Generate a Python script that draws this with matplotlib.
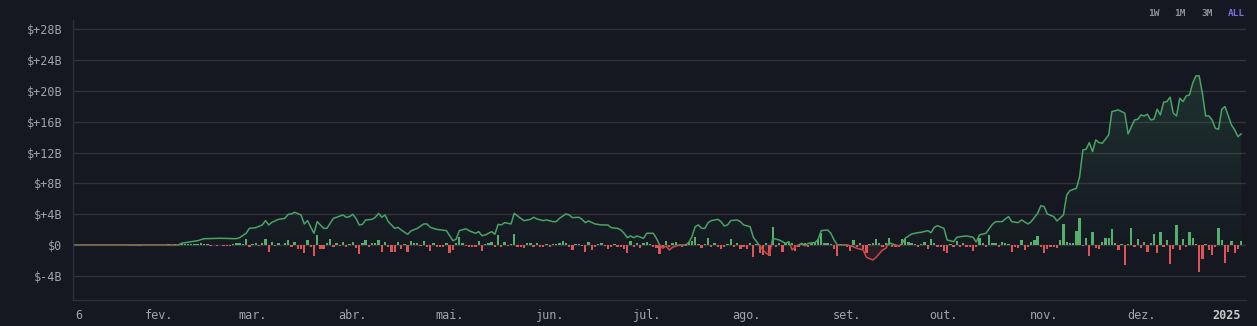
import numpy as np
import pandas as pd
import matplotlib
matplotlib.use("Agg")
import matplotlib.pyplot as plt
import matplotlib.dates as mdates
from matplotlib.patches import Rectangle

# ---------------- data ----------------
# daily net flow bars (billions USD), one list per month
bars_jan = [0.03, 0.02, 0.03, 0.02, 0.03, 0.02, 0.03, 0.02, 0.03, 0.02, 0.03, 0.02, 0.01, -0.02, 0.01,
            -0.02, -0.05, -0.12, -0.1, -0.1, -0.08, 0.05, 0.05, 0.06, 0.05, 0.06]
bars_feb = [0.05, 0.06, 0.05, 0.08, 0.06, 0.08, 0.05, 0.1, 0.08, 0.1, 0.12, 0.1, 0.12, 0.3, 0.1, 0.08,
            -0.17, 0.05, -0.1, -0.05, -0.12, -0.15, -0.15, 0.1, 0.25, 0.3, 0.1, 0.78, -0.2]
bars_mar = [0.1, 0.2, -0.15, 0.2, 0.78, -0.87, 0.43, -0.1, 0.3, 0.05, 0.2, 0.65, -0.2, 0.35, -0.52,
            -0.5, -1.0, 0.65, -0.2, -1.39, 1.3, -0.56, -0.5, 0.2, 0.74, -0.2, 0.2, -0.1, 0.43, -0.3, 0.1]
bars_apr = [0.43, -0.43, -1.17, 0.2, 0.65, -0.2, 0.3, 0.3, 0.65, -0.87, 0.35, -0.2, -0.87, -0.87, 0.35,
            -0.52, 0.1, -0.87, 0.52, 0.3, 0.3, -0.1, 0.52, -0.3, -0.74, 0.2, -0.3, -0.2, -0.2, 0.2]
bars_may = [-1.0, -0.65, 0.3, 1.0, 0.3, -0.1, -0.2, -0.2, -0.3, 0.56, -0.74, 0.1, 0.2, 0.4, -0.3, 1.3,
            -0.2, 0.43, -0.1, 0.15, 1.47, -0.3, -0.3, -0.4, 0.2, 0.2, -0.3, 0.3, -0.3, -0.3, 0.15]
bars_jun = [-0.2, 0.1, 0.1, 0.3, 0.52, 0.2, -0.2, -0.65, 0.1, 0.15, -0.1, -0.87, 0.35, -0.65, -0.3, 0.1,
            0.2, -0.1, -0.52, -0.2, 0.1, -0.3, -0.2, -0.52, -1.0, 0.52, -0.3, 0.3, -0.4, 0.2]
bars_jul = [0.43, 0.1, -0.2, -0.4, -1.17, -0.3, 0.52, -0.2, 0.3, 0.35, -0.1, -0.2, -0.1, 0.35, 0.52, 1.08,
            0.1, -0.43, 0.1, 0.95, -0.2, 0.3, -0.3, -0.52, -0.2, 0.15, 0.78, -0.3, 0.2, -0.52, -0.3]
bars_aug = [-0.52, 0.3, -1.52, 0.1, -1.08, -1.3, 0.3, -1.43, 2.3, -0.3, 0.2, -0.87, 0.2, 0.35, 0.3, -0.74,
            -0.3, 0.2, 0.3, -0.3, 0.2, 0.35, 0.78, 1.52, 0.3, 0.2, 0.1, -0.52, -1.39, 0.1, -0.1]
bars_sep = [-0.2, -0.74, 0.65, -0.3, 0.3, -0.56, -1.0, 0.1, 0.3, 0.78, 0.3, -0.3, 0.3, 0.87, -0.3, -0.3,
            -0.3, 0.78, 0.74, 0.43, 0.2, 0.1, -0.2, 0.1, 0.43, -0.52, 0.78, 0.3, -0.2, -0.3]
bars_oct = [-0.78, -1.08, 0.1, -0.2, 0.52, -0.2, 0.3, -0.3, -0.3, -0.74, -0.3, 0.87, 0.3, -0.2, 1.3, 0.3,
            0.3, -0.2, 0.43, 0.2, 0.1, -0.87, -0.2, -0.43, 0.65, -0.65, -0.3, 0.43, 0.65, 1.17, -0.2]
bars_nov = [-1.0, -0.52, -0.3, -0.3, -0.43, 0.65, 2.73, 0.35, 0.3, 0.3, 1.82, 3.46, -0.1, 0.87, -1.43,
            1.73, -0.43, -0.52, 0.43, 0.87, 0.87, 2.03, 0.2, -0.65, 0.1, -2.6, 0.1, 2.16, -0.3, 0.74]
bars_dec = [-0.43, 0.43, -0.87, 0.2, 1.39, -1.08, 1.73, -0.2, 0.65, -2.47, -0.52, 2.6, -0.65, 0.78, -0.2,
            1.73, 0.87, 0.1, -3.46, -1.86, 0.15, -0.65, -1.3, -0.2, 2.16, 0.65, -2.38, -0.87, 0.56, -1.08, -0.52]
bars_jan25 = [0.56]

bar_months = [("2024-01-06", bars_jan), ("2024-02-01", bars_feb), ("2024-03-01", bars_mar),
              ("2024-04-01", bars_apr), ("2024-05-01", bars_may), ("2024-06-01", bars_jun),
              ("2024-07-01", bars_jul), ("2024-08-01", bars_aug), ("2024-09-01", bars_sep),
              ("2024-10-01", bars_oct), ("2024-11-01", bars_nov), ("2024-12-01", bars_dec),
              ("2025-01-01", bars_jan25)]

# rolling flow line: day of year 2024 (0 = Jan 1) and value in billions
line_day = [5, 37, 38, 43, 45, 50, 55, 56, 58, 59, 61, 63, 64, 65, 66, 68, 70, 71, 72, 73, 75, 76, 77, 79,
            80, 82, 83, 85, 86, 88, 89, 90, 91, 92, 93, 94, 95, 97, 98, 99, 100, 101, 102, 104, 105, 106,
            108, 109, 111, 113, 114, 115, 117, 120, 122, 123, 124, 126, 127, 129, 130, 131, 132, 134, 135,
            136, 137, 138, 140, 141, 142, 144, 146, 147, 148, 150, 151, 153, 154, 155, 157, 158, 159, 161,
            162, 163, 164, 166, 168, 170, 171, 173, 174, 175, 176, 177, 178, 179, 181, 182, 184, 185, 186,
            187, 188, 189, 190, 192, 194, 195, 196, 197, 198, 199, 200, 201, 202, 204, 205, 206, 207, 208,
            210, 211, 212, 214, 215, 216, 218, 219, 220, 221, 223, 224, 225, 226, 227, 228, 230, 231, 232,
            234, 235, 236, 238, 239, 240, 241, 244, 246, 247, 249, 250, 252, 253, 255, 256, 257, 258, 260,
            261, 262, 264, 266, 267, 269, 270, 271, 272, 274, 275, 277, 278, 279, 281, 283, 284, 285, 287,
            289, 290, 292, 293, 294, 295, 297, 298, 300, 301, 303, 304, 305, 306, 308, 309, 311, 312, 313,
            315, 316, 317, 318, 319, 320, 321, 322, 323, 325, 326, 328, 330, 331, 333, 334, 335, 336, 337,
            338, 339, 340, 341, 342, 343, 344, 345, 346, 347, 348, 349, 350, 351, 352, 353, 354, 355, 356,
            357, 358, 359, 360, 361, 363, 364, 365, 366]
line_val = [0.0, 0.0, 0.22, 0.56, 0.82, 0.87, 0.82, 0.95, 1.52, 2.16, 2.25, 2.6, 3.16, 2.6, 2.94, 3.33, 3.46,
            3.98, 4.03, 4.24, 3.9, 2.73, 3.16, 1.52, 3.03, 2.16, 2.16, 3.46, 3.6, 3.9, 3.6, 3.68, 3.98, 3.46,
            2.6, 2.68, 3.25, 3.33, 3.6, 4.11, 3.6, 3.9, 3.03, 2.16, 2.29, 1.95, 1.39, 1.82, 2.16, 2.73, 2.73,
            2.29, 2.03, 1.86, 0.56, 0.74, 1.86, 2.1, 1.86, 1.52, 1.73, 1.21, 1.3, 1.73, 1.39, 2.68, 2.6, 2.9,
            2.73, 4.11, 3.77, 3.16, 3.33, 3.6, 3.38, 3.16, 3.25, 3.03, 3.03, 3.46, 4.03, 3.9, 3.55, 3.6, 3.33,
            2.9, 3.12, 2.73, 2.6, 2.6, 2.25, 2.16, 1.95, 1.52, 0.95, 1.17, 0.95, 1.17, 0.87, 1.52, 1.52, 0.87,
            0.0, -0.43, -0.13, -0.65, -0.3, 0.0, 0.0, 0.3, 1.08, 2.38, 2.6, 2.16, 2.16, 2.9, 3.16, 3.33, 3.03,
            2.47, 2.6, 3.16, 3.25, 3.03, 2.6, 2.38, 1.0, 0.43, -0.65, -1.08, -1.3, 0.87, 0.65, 0.43, 0.22,
            0.43, -0.65, -0.22, 0.22, -0.13, 0.22, 0.3, 0.65, 1.86, 1.95, 1.52, 0.65, 0.0, 0.0, -0.22, -0.43,
            -0.65, -1.6, -1.95, -1.6, -0.65, -0.43, 0.3, 0.13, -0.13, 0.13, 0.87, 1.43, 1.6, 1.65, 1.86, 1.6,
            2.29, 2.51, 2.16, 0.65, 0.43, 1.0, 1.08, 1.17, 1.0, 0.4, 1.3, 1.52, 2.68, 3.03, 3.03, 3.38, 3.68,
            3.03, 2.9, 3.25, 2.73, 3.03, 4.11, 5.1, 4.98, 4.03, 3.68, 3.12, 3.9, 6.49, 7.06, 7.36, 8.87, 12.34,
            12.42, 13.29, 12.12, 13.64, 13.29, 13.2, 14.29, 17.32, 17.53, 17.1, 14.42, 16.23, 16.32, 16.88,
            16.75, 16.97, 16.23, 16.32, 17.62, 16.88, 18.53, 18.61, 19.18, 17.1, 16.75, 19.05, 18.61, 19.35,
            19.48, 21.0, 21.95, 21.95, 19.7, 16.75, 16.75, 16.23, 15.15, 15.02, 17.62, 17.97, 15.58, 14.94,
            14.07, 14.42]

y_ticks = [-4, 0, 4, 8, 12, 16, 20, 24, 28]
y_labels = ["$-4B", "$0", "$+4B", "$+8B", "$+12B", "$+16B", "$+20B", "$+24B", "$+28B"]
x_tick_dates = ["2024-01-06", "2024-02-01", "2024-03-01", "2024-04-01", "2024-05-01", "2024-06-01",
                "2024-07-01", "2024-08-01", "2024-09-01", "2024-10-01", "2024-11-01", "2024-12-01",
                "2025-01-01"]
x_tick_labels = ["6", "fev.", "mar.", "abr.", "mai.", "jun.", "jul.", "ago.", "set.", "out.", "nov.",
                 "dez.", "2025"]

# ---------------- style ----------------
BG = "#151821"
GREEN_BAR = "#55b06e"
RED_BAR = "#de5457"
GREEN_LINE = "#48a365"
RED_LINE = "#c9484c"
GRID = "#313338"
SPINE = "#2a2e3d"
TXT = "#a2a4a8"
MONO = "DejaVu Sans Mono"

W, H = 1257, 326
fig = plt.figure(figsize=(W / 100, H / 100), dpi=100, facecolor=BG)
ax = fig.add_axes([73 / W, (H - 300) / H, (1246 - 73) / W, 280 / H])
ax.set_facecolor(BG)

base = pd.Timestamp("2024-01-01")
ldates = [base + pd.Timedelta(days=int(d)) for d in line_day]
lx = mdates.date2num(ldates)
ly = np.array(line_val, dtype=float)

# bars
bx, bv = [], []
for start, vals in bar_months:
    ds = pd.date_range(start, periods=len(vals), freq="D")
    bx.extend(mdates.date2num(ds))
    bv.extend(vals)
bx = np.array(bx)
bv = np.array(bv)

x_left = mdates.date2num(pd.Timestamp("2024-01-05 10:00"))
x_right = mdates.date2num(pd.Timestamp("2025-01-02 12:00"))
y_bot, y_top = -7.14, 29.2

# grid
for tk in y_ticks:
    ax.axhline(tk, color=GRID, lw=1.0, zorder=0.5)

# gradient fill under positive part of line
poly = ax.fill_between(lx, np.maximum(ly, 0), 0, facecolor="none", edgecolor="none")
path = poly.get_paths()[0]
ymax_fill = 22.5
n = 256
t = np.linspace(0, 1, n)
grad = np.zeros((n, 1, 4))
grad[:, 0, 0] = 0.30
grad[:, 0, 1] = 0.68
grad[:, 0, 2] = 0.46
grad[:, 0, 3] = 0.02 + 0.15 * t
im = ax.imshow(grad, extent=[lx.min(), lx.max(), 0, ymax_fill], origin="lower",
               aspect="auto", zorder=1, interpolation="bilinear")
im.set_clip_path(path, transform=ax.transData)

# negative fill
ax.fill_between(lx, np.minimum(ly, 0), 0, facecolor=RED_LINE, alpha=0.12, edgecolor="none", zorder=1)

# bars
colors = [GREEN_BAR if v >= 0 else RED_BAR for v in bv]
ax.bar(bx, bv, width=0.72, color=colors, zorder=2, linewidth=0)

# line (green above zero, red below)
lg, = ax.plot(lx, ly, color=GREEN_LINE, lw=1.1, zorder=3, solid_joinstyle="round")
lr, = ax.plot(lx, ly, color=RED_LINE, lw=1.1, zorder=3, solid_joinstyle="round")
clip_up = Rectangle((x_left - 10, 0), (x_right - x_left) + 20, 100, transform=ax.transData)
clip_dn = Rectangle((x_left - 10, -100), (x_right - x_left) + 20, 100, transform=ax.transData)
lg.set_clip_path(clip_up)
lr.set_clip_path(clip_dn)

ax.set_xlim(x_left, x_right)
ax.set_ylim(y_bot, y_top)

# axes styling
for s in ["top", "right"]:
    ax.spines[s].set_visible(False)
for s in ["left", "bottom"]:
    ax.spines[s].set_color(SPINE)
    ax.spines[s].set_linewidth(1.0)

ax.set_yticks(y_ticks)
ax.set_yticklabels(y_labels, fontfamily=MONO, fontsize=8.5, color=TXT)
ax.tick_params(axis="y", length=0, pad=7.5)

xt = mdates.date2num(pd.to_datetime(x_tick_dates))
ax.set_xticks(xt)
ax.set_xticklabels(x_tick_labels, fontfamily=MONO, fontsize=8.5, color=TXT)
ax.tick_params(axis="x", length=0, pad=6.5)
lbls = ax.get_xticklabels()
lbls[-1].set_fontweight("bold")
lbls[-1].set_color("#c9cacc")
lbls[-1].set_horizontalalignment("right")
lbls[0].set_horizontalalignment("left")

# top-right range buttons
btn_y = 1 - 13 / H
for label, xpx, col in [("1W", 1148, "#8d9097"), ("1M", 1174, "#8d9097"),
                        ("3M", 1201, "#8d9097"), ("ALL", 1228, "#7a6cd2")]:
    fig.text(xpx / W, btn_y, label, fontfamily=MONO, fontsize=6.8, color=col,
             ha="left", va="center", fontweight="bold")

fig.savefig("out.png", dpi=100, facecolor=BG)
